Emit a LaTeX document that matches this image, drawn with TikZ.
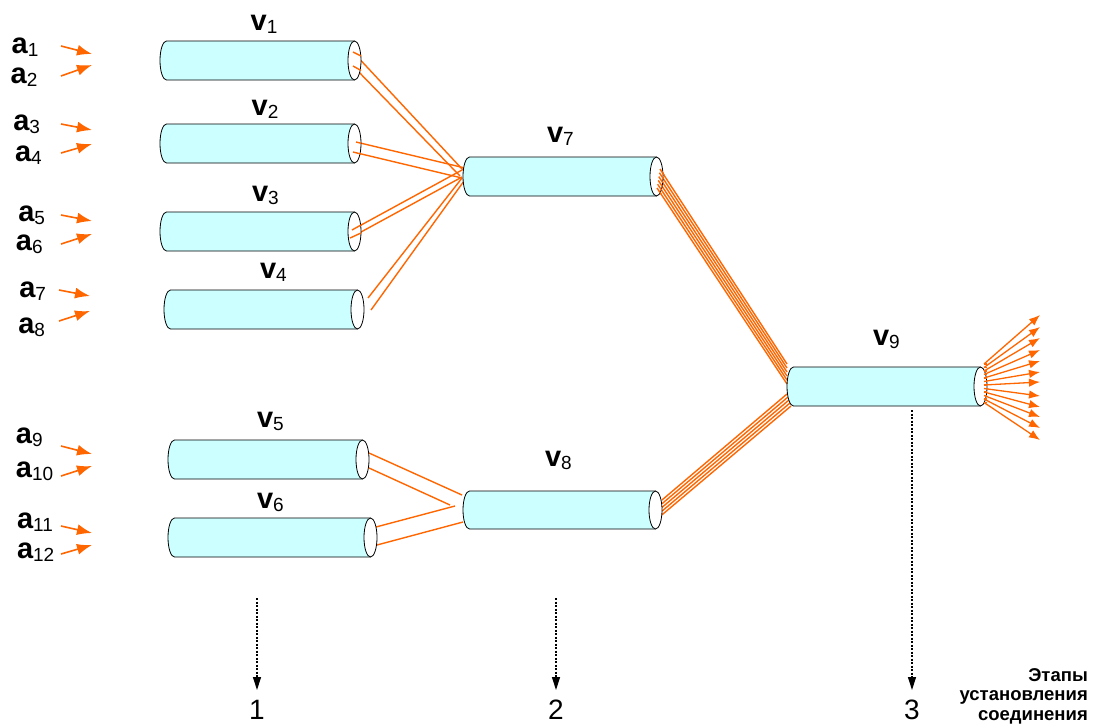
\documentclass[tikz,border=0pt]{standalone}
\usepackage{fontspec}
\setmainfont{Liberation Sans}
\usetikzlibrary{arrows.meta,calc}
\definecolor{cylfill}{HTML}{CCFFFF}
\definecolor{wireor}{HTML}{FF6600}
\newcommand{\lbl}[2]{{\fontsize{29}{29}\selectfont\bfseries #1}{\fontsize{19}{19}\selectfont\raisebox{-3pt}{#2}}}
% draw a horizontal cylinder over a named rectangle node: #1 node name, #2 half height (pt)
\newcommand{\tube}[2]{%
  \fill[cylfill] ($(#1.north west)+(6.5,0)$) arc[start angle=90, end angle=270, x radius=6.5pt, y radius=#2pt]
     -- ($(#1.south east)+(-6.5,0)$) -- ($(#1.north east)+(-6.5,0)$) -- cycle;
  \draw[tubeline] ($(#1.north east)+(-6.5,0)$) -- ($(#1.north west)+(6.5,0)$)
     arc[start angle=90, end angle=270, x radius=6.5pt, y radius=#2pt] -- ($(#1.south east)+(-6.5,0)$);
  \draw[tubeline, fill=white] ($(#1.east)+(-6.5,0)$) ellipse[x radius=6.5pt, y radius=#2pt];
}
\begin{document}
\begin{tikzpicture}[x=1pt,y=-1pt,
  cyl/.style={rectangle, draw=none, minimum height=39pt, minimum width=201pt,
    inner sep=0pt, outer sep=0pt, anchor=west},
  tubeline/.style={draw=black, line width=0.8pt},
  lab/.style={anchor=base west, inner sep=0pt, outer sep=0pt},
  wire/.style={draw=wireor, line width=1.4pt},
  inarr/.style={draw=wireor, line width=1.6pt, -{Latex[length=15pt,width=11pt]}},
  outarr/.style={draw=wireor, line width=1.3pt, -{Latex[length=11pt,width=8.5pt]}},
  dotarr/.style={draw=black, line width=1.2pt, dash pattern=on 2pt off 1.5pt, -{Triangle[length=13pt,width=8pt]}},
  num/.style={anchor=base, inner sep=0pt, font=\fontsize{28}{28}\selectfont},
  stage/.style={anchor=base east, inner sep=0pt, font=\fontsize{18.5}{18.5}\selectfont\bfseries}
]
\useasboundingbox (0,0) rectangle (1095,726);

% cylinders (frames)
\node[cyl] (v1) at (160,60.5) {};
\node[cyl] (v2) at (160,143.5) {};
\node[cyl] (v3) at (160,231.5) {};
\node[cyl, minimum width=200pt] (v4) at (164,309.5) {};
\node[cyl] (v5) at (168,459.5) {};
\node[cyl, minimum width=209pt] (v6) at (168,537.5) {};
\node[cyl, minimum width=200pt] (v7) at (463,176.5) {};
\node[cyl, minimum width=199pt, minimum height=38pt] (v8) at (463,510) {};
\node[cyl, minimum width=200pt] (v9) at (787,386.5) {};

% connectors: stage 1 -> v7
\draw[wire] ($(v1.east)+(-8,-8.5)$) -- ($(v7.west)+(0,-6.5)$);
\draw[wire] ($(v1.east)+(-8,5.5)$) -- ($(v7.west)+(-3,-0.5)$);
\draw[wire] ($(v2.east)+(-5,-1.5)$) -- ($(v7.west)+(2,-8.5)$);
\draw[wire] ($(v2.east)+(-8,8.5)$) -- ($(v7.west)+(-1,1.5)$);
\draw[wire] ($(v3.east)+(-9,-1.5)$) -- ($(v7.west)+(-1,-6.5)$);
\draw[wire] ($(v3.east)+(-11,6.5)$) -- ($(v7.west)+(-1,0.5)$);
\draw[wire] ($(v4.east)+(4,-11.5)$) -- ($(v7.west)+(-1,1.5)$);
\draw[wire] ($(v4.east)+(7,0.5)$) -- ($(v7.west)+(1,4.5)$);

% stage 1 -> v8
\draw[wire] ($(v5.east)+(0,-6.5)$) -- ($(v8.west)+(-1,-15)$);
\draw[wire] ($(v5.east)+(0,8.5)$) -- ($(v8.west)+(-13,-5)$);
\draw[wire] ($(v6.east)+(-1,-10.5)$) -- ($(v8.west)+(-8,-4)$);
\draw[wire] ($(v6.east)+(0,7.5)$) -- ($(v8.west)+(0,12)$);

% stage 2 -> v9
\foreach \k in {0,...,5}
  \draw[wire] ($(v7.east)+({-3-0.6*\k},{-7.5+3.8*\k})$) -- ($(v9.west)+(0,{-22.5+4*\k})$);
\foreach \k in {0,...,4}
  \draw[wire] ($(v8.east)+(0,{-10+3.7*\k})$) -- ($(v9.west)+({\k},{7.5+3*\k})$);

% tubes drawn over the wire ends
\tube{v1}{19.5}
\tube{v2}{19.5}
\tube{v3}{19.5}
\tube{v4}{19.5}
\tube{v5}{19.5}
\tube{v6}{19.5}
\tube{v7}{19.5}
\tube{v8}{19}
\tube{v9}{19.5}

% wire ends visible inside the open ends
\draw[wire] ($(v1.east)+(-8,-8.5)$) -- ($(v1.east)+(0,-4.5)$);
\draw[wire] ($(v1.east)+(-8,5.5)$) -- ($(v1.east)+(0,10)$);
\draw[wire] ($(v2.east)+(-5,-1.5)$) -- ($(v2.east)+(0,-0.3)$);
\draw[wire] ($(v2.east)+(-8,8.5)$) -- ($(v2.east)+(0,10.5)$);
\draw[wire] ($(v3.east)+(-9,-1.5)$) -- ($(v3.east)+(0,-6.5)$);
\draw[wire] ($(v3.east)+(-11,6.5)$) -- ($(v3.east)+(0,1.5)$);
\foreach \k in {0,...,5}
  \draw[wire] ($(v7.east)+({-3-0.6*\k},{-7.5+3.8*\k})$) -- ($(v7.east)+({1-0.6*\k},{-1.5+3.8*\k})$);
\foreach \k in {0,...,11}
  \draw[wire] ($(v9.east)+(-3,{-22.5+3.5*\k})$) -- ($(v9.east)+(0,{-22.5+3.5*\k})$);

% outputs of v9
\foreach \ty [count=\c from 0] in {315,327,338,350,361,372,382,396,407,417,428,440}
  \draw[outarr] ($(v9.east)+(-3,{-22.5+3.5*\c})$) -- (1040,\ty);

% cylinder labels
\node[lab] (lv1) at (250.7,30.7) {\lbl{v}{1}};
\node[lab] (lv2) at (251.7,115) {\lbl{v}{2}};
\node[lab] (lv3) at (252,201) {\lbl{v}{3}};
\node[lab] (lv4) at (260,278) {\lbl{v}{4}};
\node[lab] (lv5) at (257,427) {\lbl{v}{5}};
\node[lab] (lv6) at (257,508) {\lbl{v}{6}};
\node[lab] (lv7) at (547,142) {\lbl{v}{7}};
\node[lab] (lv8) at (545,466) {\lbl{v}{8}};
\node[lab] (lv9) at (873,345) {\lbl{v}{9}};

% input labels
\node[lab] (la1) at (11.7,53.3) {\lbl{a}{1}};
\node[lab] (la2) at (10.7,83.3) {\lbl{a}{2}};
\node[lab] (la3) at (13.3,130) {\lbl{a}{3}};
\node[lab] (la4) at (15,161.7) {\lbl{a}{4}};
\node[lab] (la5) at (18.3,221.7) {\lbl{a}{5}};
\node[lab] (la6) at (16,250) {\lbl{a}{6}};
\node[lab] (la7) at (19.3,297.7) {\lbl{a}{7}};
\node[lab] (la8) at (18.3,333.3) {\lbl{a}{8}};
\node[lab] (la9) at (16,443) {\lbl{a}{9}};
\node[lab] (la10) at (16,477) {\lbl{a}{10}};
\node[lab] (la11) at (17,528) {\lbl{a}{11}};
\node[lab] (la12) at (17,558) {\lbl{a}{12}};

% input arrows
\draw[inarr] (61,46) -- (92,54);
\draw[inarr] (61,76) -- (92,65);
\draw[inarr] (61,124) -- (92,130);
\draw[inarr] (61,153) -- (92,144);
\draw[inarr] (61,215) -- (92,221);
\draw[inarr] (61,244) -- (92,234);
\draw[inarr] (59,290) -- (90,296);
\draw[inarr] (59,321) -- (90,311);
\draw[inarr] (61,446) -- (92,454);
\draw[inarr] (61,476) -- (92,466);
\draw[inarr] (61,526) -- (92,533);
\draw[inarr] (61,554) -- (92,545);

% stage markers
\node[num] (n1) at (257,719) {1};
\node[num] (n2) at (556,719) {2};
\node[num] (n3) at (912,719) {3};
\draw[dotarr] (257,598) -- (257,690);
\draw[dotarr] (556,598) -- (556,690);
\draw[dotarr] (912,410) -- (912,690);

\node[stage] (st1) at (1088,681) {Этапы};
\node[stage] (st2) at (1088,700) {установления};
\node[stage] (st3) at (1088,720) {соединения};
\end{tikzpicture}
\end{document}
